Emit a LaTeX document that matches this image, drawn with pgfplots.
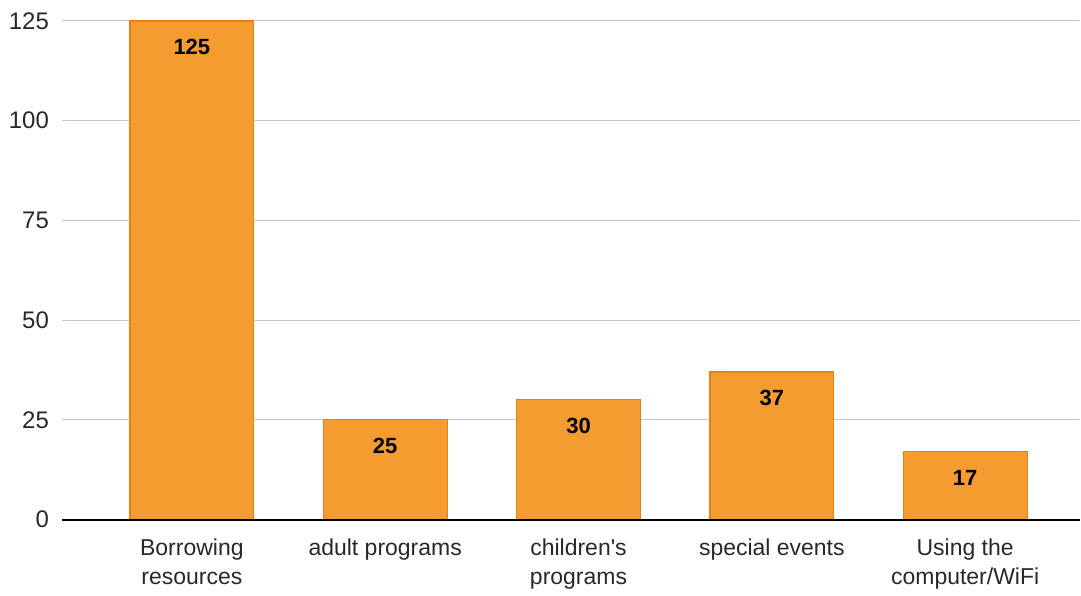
\documentclass[border=0pt]{standalone}
\usepackage{pgfplots}
\pgfplotsset{compat=1.18}
\usepackage{fontspec}
\setmainfont{Liberation Sans}
\definecolor{barfill}{RGB}{244,156,48}
\definecolor{baredge}{RGB}{232,128,18}
\definecolor{gridc}{RGB}{190,200,215}
\definecolor{txt}{RGB}{40,40,40}
\begin{document}
\begin{tikzpicture}
\begin{axis}[
  scale only axis,
  width=509.5pt, height=249.5pt,
  xmin=-0.672, xmax=4.594,
  ymin=0, ymax=125,
  axis line style={draw=none},
  ytick={0,25,50,75,100,125},
  ymajorgrids,
  grid style={gridc, line width=0.5pt},
  major tick length=0pt,
  xtick={0,1,2,3,4},
  xticklabels={{Borrowing\\resources},{adult programs},{children\textquotesingle s\\programs},{special events},{Using the\\computer/WiFi}},
  xticklabel style={align=center, text=txt, font=\fontsize{11.5pt}{14.5pt}\selectfont, yshift=-6pt},
  yticklabel style={text=txt, font=\fontsize{12pt}{12pt}\selectfont, xshift=-3pt},
  /pgf/number format/assume math mode=true,
  clip=false,
]
\addplot[ybar, bar width=62pt, fill=barfill, draw=baredge, line width=0.6pt,
  nodes near coords,
  every node near coord/.append style={anchor=north, yshift=-5.5pt, text=black, font=\fontsize{11pt}{12pt}\selectfont\bfseries}]
  coordinates {(0,125) (1,25) (2,30) (3,37) (4,17)};
\draw[black, line width=1pt] (axis cs:-0.672,0) -- (axis cs:4.594,0);
\end{axis}
\path[use as bounding box] (-31pt,-34.5pt) rectangle (509.5pt,260pt);
\end{tikzpicture}
\end{document}
